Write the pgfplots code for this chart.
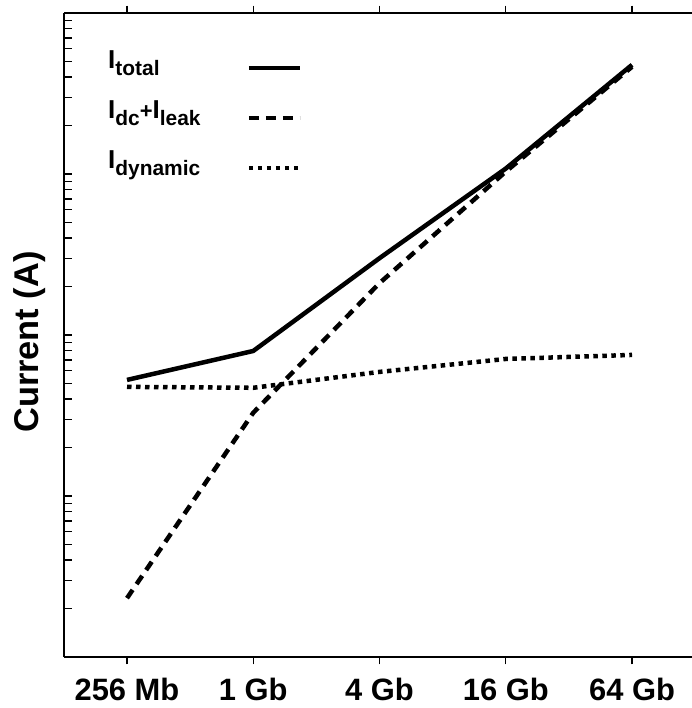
\documentclass[border=0pt]{standalone}
\usepackage{fontspec}
\setmainfont{Liberation Sans}
\usepackage{pgfplots}
\pgfplotsset{compat=1.18}
\usetikzlibrary{calc}
\newcommand{\sub}[1]{\raisebox{-7bp}{\fontsize{21}{21}\selectfont #1}}
\newcommand{\plus}{{\fontsize{22}{22}\selectfont +}}
\begin{document}
\begin{tikzpicture}
\begin{semilogyaxis}[
  scale only axis, width=628bp, height=644bp,
  xmin=-0.499, xmax=4.475, ymin=1, ymax=10000,
  axis x line=box, axis y line=left, y axis line style={-},
  axis line style={line width=1.4bp, black},
  xtick={0,1,2,3,4},
  xticklabels={256 Mb,1 Gb,4 Gb,16 Gb,64 Gb},
  xtick align=outside, ytick align=inside,
  ytick={1,10,100,1000,10000}, yticklabels={},
  major tick length=7.5bp, minor tick length=7.5bp,
  every tick/.style={black, line width=1.2bp},
  xticklabel style={anchor=base, yshift=-36bp, font=\fontsize{31}{31}\selectfont\bfseries},
  legend plot pos=right,
  legend image code/.code={\draw[#1] (0bp,0bp) -- (51bp,0bp);},
  legend style={at={(rel axis cs:0.0701,0.9457)}, anchor=north west, draw=none, fill=none,
    inner sep=0pt, row sep=22bp, column sep=46bp,
    nodes={inner sep=0pt, anchor=base west, text height=20bp, text depth=8bp,
      font=\fontsize{26}{26}\selectfont\bfseries}},
]
\addplot[black, line width=4.5bp, line join=round] coordinates {
  (0,52.6) (1,79.6) (2,300) (3,1081) (4,4764)};
\addlegendentry{I\sub{total}}
\addplot[black, line width=4.5bp, dash pattern=on 10bp off 7bp] coordinates {
  (0,2.32) (1,32.9) (2,210) (3,1035) (4,4634)};
\addlegendentry{I\sub{dc}\plus I\sub{leak}}
\addplot[black, line width=4.5bp, dash pattern=on 4.5bp off 4.5bp] coordinates {
  (0,47.6) (1,47.0) (2,59.0) (3,71.0) (4,75.2)};
\addlegendentry{I\sub{dynamic}}
\end{semilogyaxis}
\node[rotate=90, anchor=base, font=\fontsize{34.5}{34.5}\selectfont\bfseries]
  at ($(current axis.south west)+(-26bp,315bp)$) {Current (A)};
\pgfresetboundingbox
\path[use as bounding box] ($(current axis.south west)+(-64bp,-51bp)$) rectangle ($(current axis.south west)+(628bp,657bp)$);
\end{tikzpicture}
\end{document}
